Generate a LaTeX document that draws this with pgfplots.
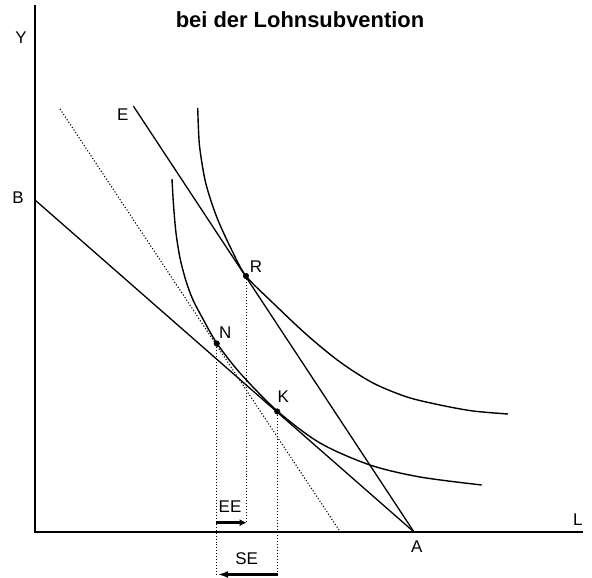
\documentclass[border=0pt]{standalone}
\usepackage{fontspec}
\setmainfont{Liberation Sans}
\usepackage{pgfplots}
\pgfplotsset{compat=1.18}
\usetikzlibrary{arrows.meta}
\tikzset{lab/.style={font=\fontsize{17}{20}\selectfont, inner sep=0pt}}
\begin{document}
\begin{tikzpicture}
\begin{axis}[
    scale only axis,
    width=592bp, height=577bp,
    xmin=-35, xmax=557,
    ymin=-45, ymax=532,
    hide axis,
    clip=false,
]
% frame of the picture (invisible, fixes the bounding box)
\addplot[draw=none] coordinates {(-35,-45) (557,532)};
% axes
\addplot[black, line width=1.6bp] coordinates {(0,527) (0,0) (548,0)};
% budget lines
\addplot[black, line width=1.3bp] coordinates {(0,332) (379,0)};   % B-A
\addplot[black, line width=1.3bp] coordinates {(98.3,426) (379,0)}; % E-A
\addplot[black, line width=1.1bp, dotted] coordinates {(25,423) (304,2)};
% indifference curves
\addplot[black, line width=1.4bp, smooth] coordinates {
    (162.7,424) (163.6,400) (165,382) (170.7,349) (181.7,315) (196.7,282)
    (211,256) (238,229) (272,197) (305,170) (338,149) (372,135)
    (405,127) (438,121) (473,118)};
\addplot[black, line width=1.4bp, smooth] coordinates {
    (137,353) (138.5,327) (141,299) (145,274) (151,251) (158,232) (168,213)
    (181.7,189) (205,159) (242.3,121) (285,89) (335,67) (385,55) (446.7,47)};
% vertical guides
\addplot[black, line width=1bp, dotted] coordinates {(181.5,188) (181.5,-44)};
\addplot[black, line width=1bp, dotted] coordinates {(211,256) (211,9)};
\addplot[black, line width=1bp, dotted] coordinates {(242.5,120) (242.5,-44)};
% points
\addplot[only marks, mark=*, mark size=2.8bp, black] coordinates {(211,256) (181.7,188.5) (242.3,120.5)};
% effect arrows
\addplot[black, line width=3bp, -{Latex[length=7bp,width=7bp]}] coordinates {(180.7,9.3) (211.7,9.3)};
\addplot[black, line width=3bp, -{Latex[length=10bp,width=7bp]}] coordinates {(242.7,-42.5) (183,-42.5)};
% labels
\node[lab] at (axis cs:-14,494) {Y};
\node[lab] at (axis cs:-17,334) {B};
\node[lab] at (axis cs:87.7,417) {E};
\node[lab] at (axis cs:381.7,-15) {A};
\node[lab] at (axis cs:542.7,12) {L};
\node[lab] at (axis cs:221,265) {R};
\node[lab] at (axis cs:190.3,199) {N};
\node[lab] at (axis cs:248.3,135) {K};
\node[lab] at (axis cs:195,25.3) {EE};
\node[lab] at (axis cs:211.7,-27) {SE};
\node[font=\fontsize{22}{26}\selectfont\bfseries] at (axis cs:265,512) {bei der Lohnsubvention};
\end{axis}
\end{tikzpicture}
\end{document}
